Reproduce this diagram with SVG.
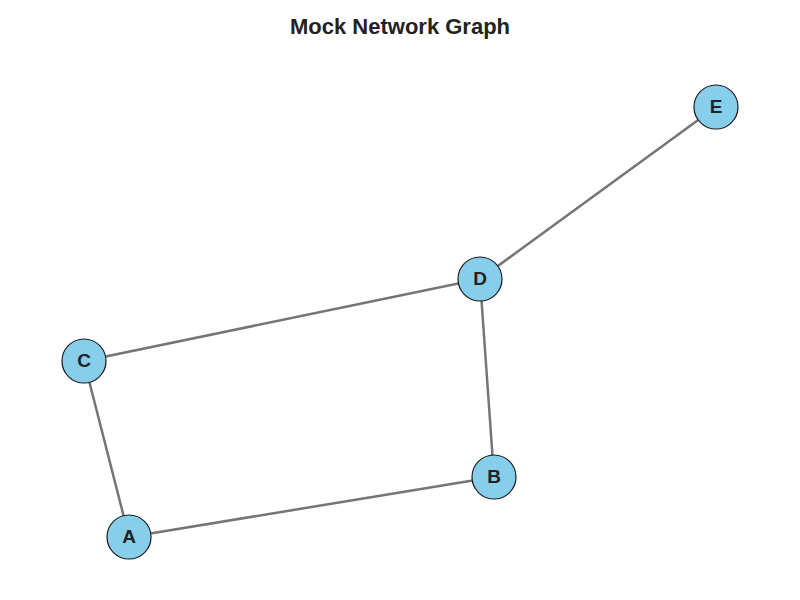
<svg xmlns="http://www.w3.org/2000/svg" width="800" height="600" viewBox="0 0 800 600">
<style>
.edge{stroke:#757575;stroke-width:2.5;fill:none}
.node circle{fill:#87ceeb;stroke:#1a1a1a;stroke-width:1.2}
.node text{font-family:"Liberation Sans",Arial,sans-serif;font-weight:bold;font-size:19px;fill:#222;text-anchor:middle}
.title{font-family:"Liberation Sans",Arial,sans-serif;font-weight:bold;font-size:22px;fill:#222;text-anchor:middle}
</style>
<rect width="800" height="600" fill="#fff"/>
<text class="title" x="400" y="34">Mock Network Graph</text>
<g id="edges">
<line class="edge" x1="129" y1="537" x2="494" y2="477"/>
<line class="edge" x1="129" y1="537" x2="84" y2="361"/>
<line class="edge" x1="84" y1="361" x2="480" y2="279"/>
<line class="edge" x1="494" y1="477" x2="480" y2="279"/>
<line class="edge" x1="480" y1="279" x2="716" y2="107"/>
</g>
<g id="node-A" class="node"><circle cx="129" cy="537" r="22"/><text x="129" y="543">A</text></g>
<g id="node-B" class="node"><circle cx="494" cy="477" r="22"/><text x="494" y="483">B</text></g>
<g id="node-C" class="node"><circle cx="84" cy="361" r="22"/><text x="84" y="367">C</text></g>
<g id="node-D" class="node"><circle cx="480" cy="279" r="22"/><text x="480" y="285">D</text></g>
<g id="node-E" class="node"><circle cx="716" cy="107" r="22"/><text x="716" y="113">E</text></g>
</svg>
